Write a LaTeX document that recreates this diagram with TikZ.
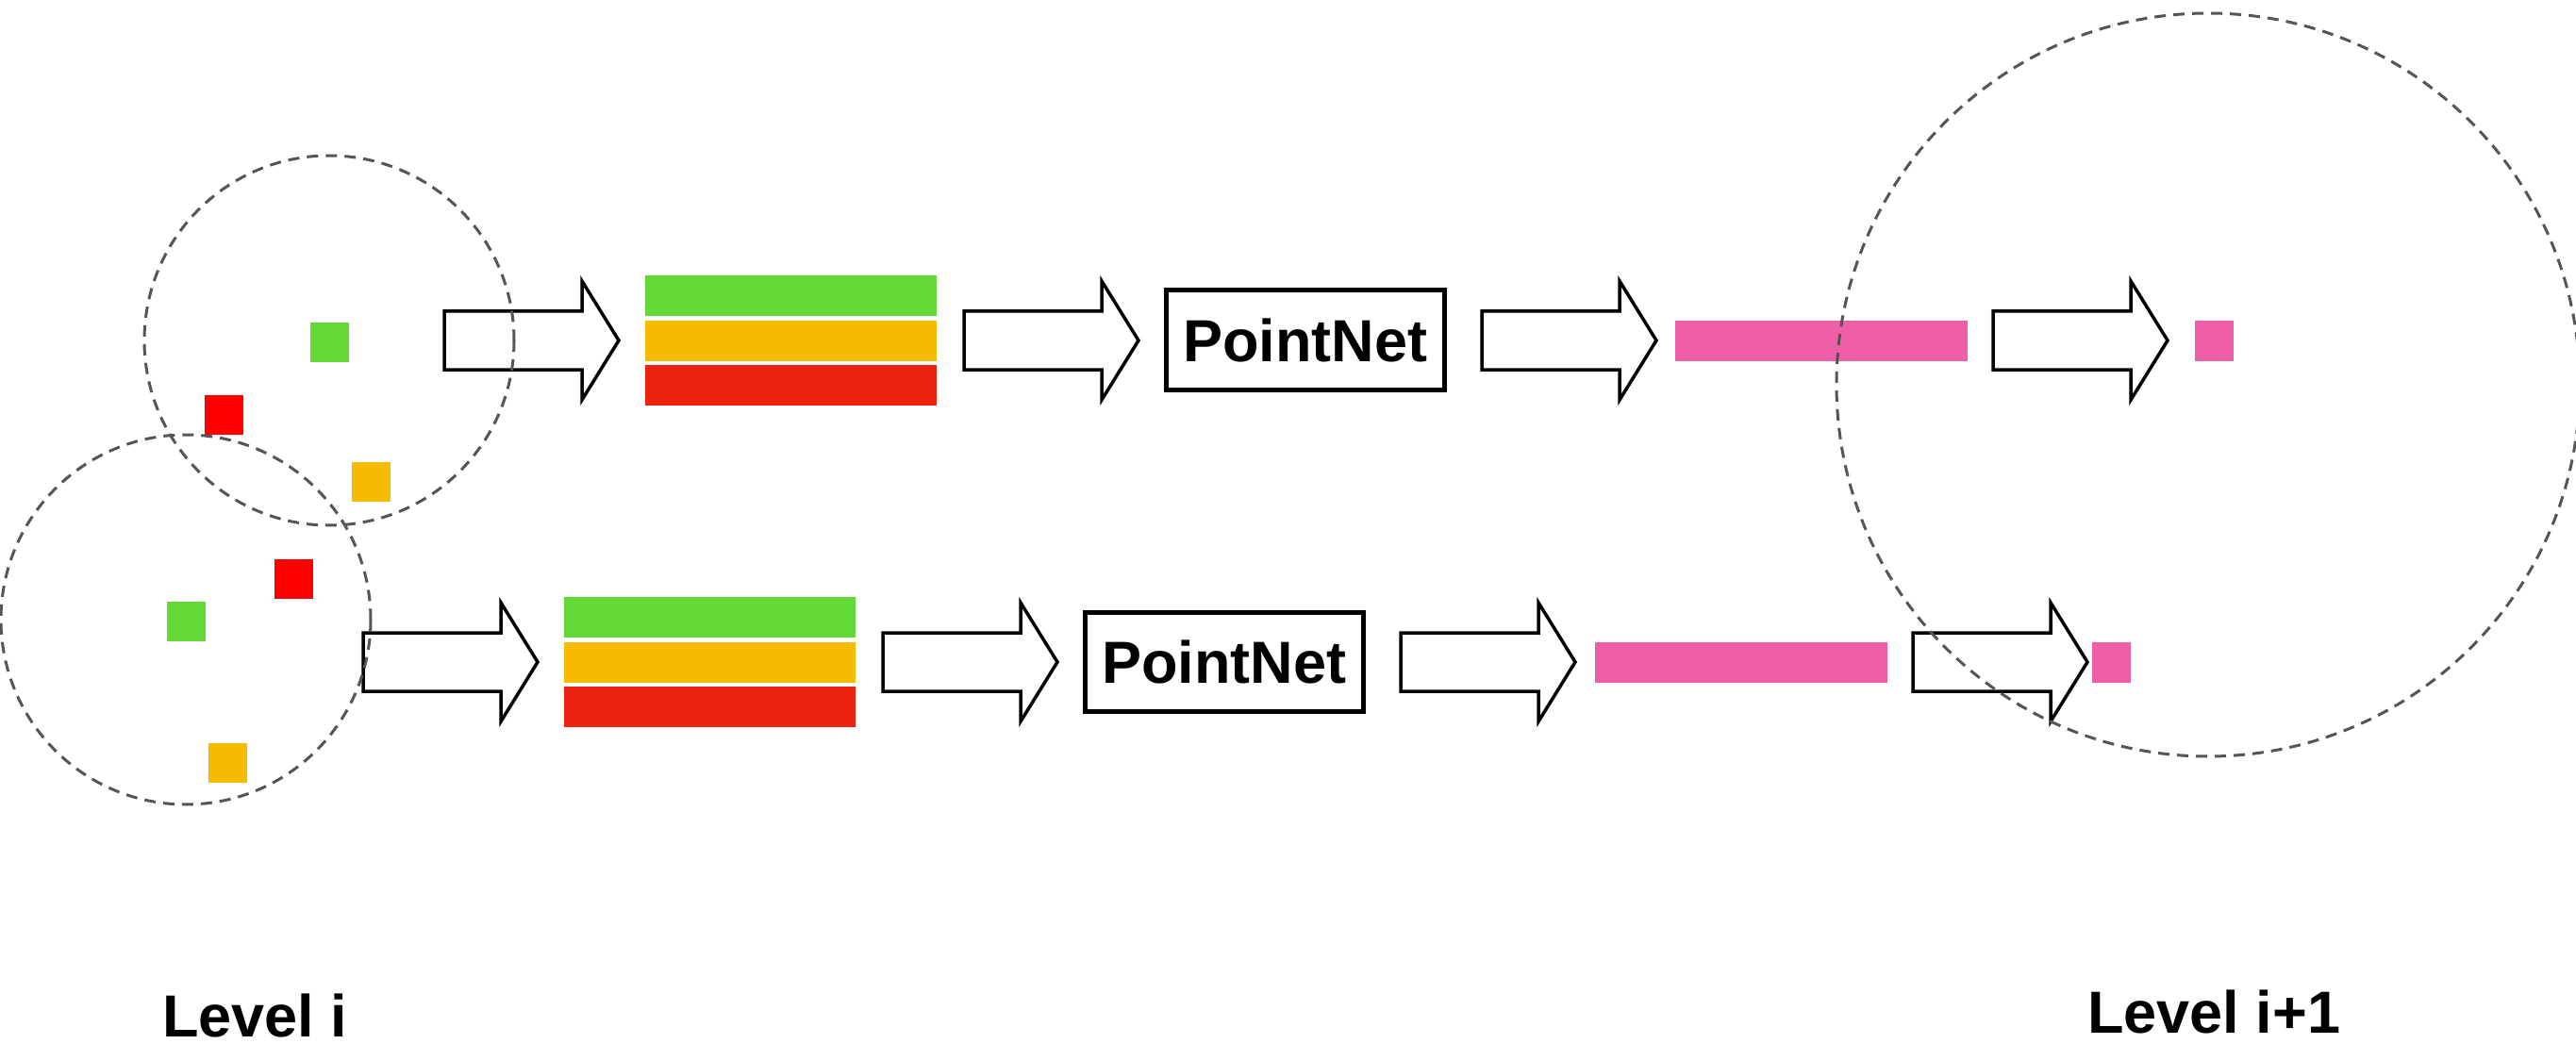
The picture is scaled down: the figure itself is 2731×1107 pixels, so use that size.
\documentclass[tikz,border=0pt]{standalone}
\usepackage{fontspec}
\setmainfont{Liberation Sans}
\definecolor{ptgreen}{RGB}{98,217,54}
\definecolor{ptorange}{RGB}{246,186,0}
\definecolor{ptred}{RGB}{238,34,16}
\definecolor{ptpink}{RGB}{239,95,167}
\definecolor{ringgray}{RGB}{85,85,85}
\tikzset{
  % hollow block arrow, origin at the middle of its tail
  blockarrow/.pic={
    \draw[draw=black, fill=white, line width=3.5pt, line join=miter]
      (0,-31) -- (146,-31) -- (146,-63) -- (185,0) -- (146,63) -- (146,31) -- (0,31) -- cycle;
    \coordinate (-tail) at (0,0);
    \coordinate (-tip) at (185,0);
  },
  featbar/.style={fill=#1, draw=none, inner sep=0pt, minimum width=309pt, minimum height=43pt},
  longbar/.style={fill=ptpink, draw=none, inner sep=0pt, minimum width=310pt, minimum height=43pt},
  shortbar/.style={fill=ptpink, draw=none, inner sep=0pt, minimum width=41pt, minimum height=43pt},
  dot/.style={fill=#1, draw=none, inner sep=0pt, minimum width=41pt, minimum height=42pt},
  netbox/.style={draw=black, line width=5pt, fill=white, inner sep=0pt,
    minimum width=295pt, minimum height=105pt, font=\fontsize{63}{70}\selectfont\bfseries},
  ring/.style={draw=ringgray, line width=3pt, dash pattern=on 12pt off 8pt},
  levellabel/.style={inner sep=0pt, anchor=base west, font=\fontsize{63}{70}\selectfont\bfseries}
}
\begin{document}
\begin{tikzpicture}[x=1pt,y=-1pt]
  \useasboundingbox (0,0) rectangle (2731,1107);

  % upper group: points -> features -> PointNet -> feature -> new point
  \node[dot=ptgreen]  (ug) at (349.5,362.5) {};
  \node[dot=red]      (ur) at (237.5,440) {};
  \node[dot=ptorange] (uo) at (393.5,511) {};
  \pic (ua1) at (471,361) {blockarrow};
  \node[featbar=ptgreen]  (ufg) at (838.5,313.5) {};
  \node[featbar=ptorange] (ufo) at (838.5,361.5) {};
  \node[featbar=ptred]    (ufr) at (838.5,408.5) {};
  \pic (ua2) at (1022,361) {blockarrow};
  \node[netbox] (unet) at (1383.5,360.5) {PointNet};
  \pic (ua3) at (1571,361) {blockarrow};
  \node[longbar] (ulong) at (1931,361.5) {};
  \pic (ua4) at (2113,361) {blockarrow};
  \node[shortbar] (ushort) at (2347.5,361.5) {};

  % lower group
  \node[dot=red]      (lr) at (311.5,614) {};
  \node[dot=ptgreen]  (lg) at (197.5,659) {};
  \node[dot=ptorange] (lo) at (241.5,808.5) {};
  \pic (la1) at (385,702) {blockarrow};
  \node[featbar=ptgreen]  (lfg) at (752.5,654.5) {};
  \node[featbar=ptorange] (lfo) at (752.5,702.5) {};
  \node[featbar=ptred]    (lfr) at (752.5,749.5) {};
  \pic (la2) at (936,702) {blockarrow};
  \node[netbox] (lnet) at (1297.5,701.5) {PointNet};
  \pic (la3) at (1485,702) {blockarrow};
  \node[longbar] (llong) at (1846,702.5) {};
  \pic (la4) at (2028,702) {blockarrow};
  \node[shortbar] (lshort) at (2238.5,702.5) {};

  % neighbourhood balls
  \draw[ring] (349,361) circle[radius=196];
  \draw[ring] (197,657) circle[radius=196];
  \draw[ring] (2341,408) circle[radius=394];

  % level captions
  \node[levellabel] (lvl) at (172,1099) {Level i};
  \node[levellabel] (lvlnext) at (2213,1095) {Level i+1};
\end{tikzpicture}
\end{document}
